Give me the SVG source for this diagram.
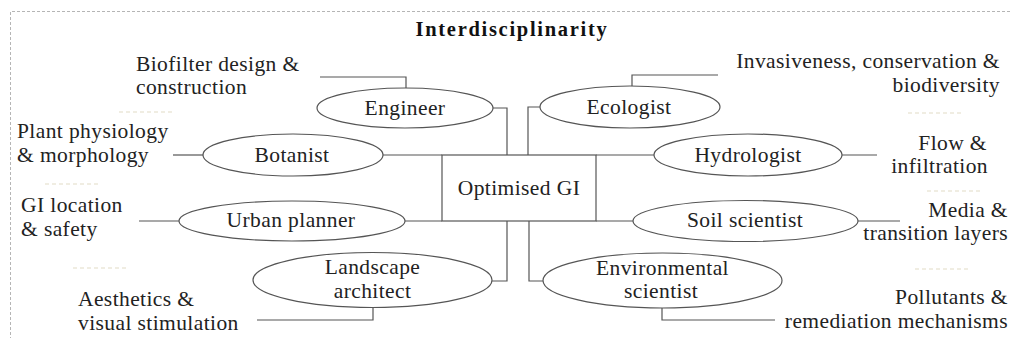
<svg xmlns="http://www.w3.org/2000/svg" width="1011" height="338" viewBox="0 0 1011 338">
<style>
.t{font-family:"Liberation Serif","Times New Roman",serif;font-size:21.5px;letter-spacing:0.4px;fill:#222}
.c{text-anchor:middle}
.e{text-anchor:end}
.title{font-family:"Liberation Serif","Times New Roman",serif;font-size:20.5px;letter-spacing:1.7px;font-weight:bold;fill:#111;text-anchor:middle}
.n{fill:#fff;stroke:#555;stroke-width:1.2}
.l{fill:none;stroke:#555;stroke-width:1.2}
.sep{stroke:#e2dcc6;stroke-width:1.2;stroke-dasharray:4 3;fill:none}
.frame{fill:none;stroke:#b5b5b5;stroke-width:1;stroke-dasharray:3 2}
</style>
<rect width="1011" height="338" fill="#fff"/>
<path class="frame" d="M10.5,340 V11.5 H1015"/>
<text class="title" x="512" y="36">Interdisciplinarity</text>
<g id="separators">
<path class="sep" d="M119,112 H172 M45,184 H100 M73,268 H128 M908,113 H963 M927,191 H982 M915,269 H968"/>
</g>
<g id="connectors">
<path class="l" d="M320,77 H406 V88"/>
<path class="l" d="M493,108 H507 V155"/>
<path class="l" d="M632,86 V75 H718"/>
<path class="l" d="M540,107 H528 V155"/>
<path class="l" d="M173,155 H203"/>
<path class="l" d="M383,155 H442"/>
<path class="l" d="M596,155 H654"/>
<path class="l" d="M842,155 H877"/>
<path class="l" d="M139,221 H179"/>
<path class="l" d="M405,221 H442"/>
<path class="l" d="M596,221 H633"/>
<path class="l" d="M858,221 H900"/>
<path class="l" d="M492,281 H507 V221"/>
<path class="l" d="M543,281 H529 V221"/>
<path class="l" d="M373,307.5 V320 H257"/>
<path class="l" d="M662,308 V320 H775"/>
</g>
<g id="optimised-gi">
<rect class="n" x="442" y="155" width="154" height="66"/>
<text class="t c" x="519" y="195">Optimised GI</text>
</g>
<g id="engineer">
<ellipse class="n" cx="405" cy="108" rx="88" ry="20"/>
<text class="t c" x="405" y="115">Engineer</text>
</g>
<g id="ecologist">
<ellipse class="n" cx="630" cy="107" rx="90" ry="21"/>
<text class="t c" x="629" y="114">Ecologist</text>
</g>
<g id="botanist">
<ellipse class="n" cx="293" cy="155" rx="90" ry="21"/>
<text class="t c" x="292" y="162">Botanist</text>
</g>
<g id="hydrologist">
<ellipse class="n" cx="748" cy="155" rx="94" ry="21"/>
<text class="t c" x="748" y="162">Hydrologist</text>
</g>
<g id="urban-planner">
<ellipse class="n" cx="292" cy="221" rx="113" ry="20"/>
<text class="t c" x="291" y="227">Urban planner</text>
</g>
<g id="soil-scientist">
<ellipse class="n" cx="745.5" cy="221" rx="112.5" ry="20.5"/>
<text class="t c" x="745" y="227">Soil scientist</text>
</g>
<g id="landscape-architect">
<ellipse class="n" cx="372.5" cy="280" rx="119.5" ry="27.5"/>
<text class="t c" x="372.5" y="274">Landscape</text>
<text class="t c" x="372.5" y="298">architect</text>
</g>
<g id="environmental-scientist">
<ellipse class="n" cx="662.5" cy="280.5" rx="119.5" ry="27.5"/>
<text class="t c" x="662.5" y="275">Environmental</text>
<text class="t c" x="661" y="298">scientist</text>
</g>
<g id="labels">
<text class="t" x="136" y="71">Biofilter design &amp;</text>
<text class="t" x="136" y="94">construction</text>
<text class="t" x="17" y="138">Plant physiology</text>
<text class="t" x="17" y="162">&amp; morphology</text>
<text class="t" x="21" y="212">GI location</text>
<text class="t" x="21" y="236">&amp; safety</text>
<text class="t" x="78" y="306">Aesthetics &amp;</text>
<text class="t" x="78" y="330">visual stimulation</text>
<text class="t e" x="1000" y="68">Invasiveness, conservation &amp;</text>
<text class="t e" x="1000" y="92">biodiversity</text>
<text class="t e" x="987" y="150">Flow &amp;</text>
<text class="t e" x="988" y="173">infiltration</text>
<text class="t e" x="1008" y="217">Media &amp;</text>
<text class="t e" x="1008" y="240">transition layers</text>
<text class="t e" x="1008" y="304">Pollutants &amp;</text>
<text class="t e" x="1008" y="328">remediation mechanisms</text>
</g>
</svg>
